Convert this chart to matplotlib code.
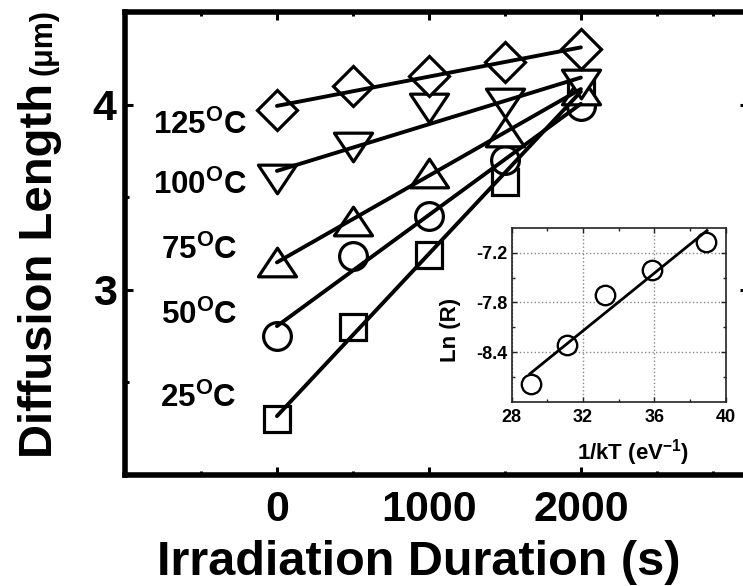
import numpy as np
import matplotlib
matplotlib.use("Agg")
import matplotlib.pyplot as plt
from matplotlib.path import Path
from matplotlib.markers import MarkerStyle

plt.rcParams['font.family'] = ['Liberation Sans', 'DejaVu Sans']
plt.rcParams['mathtext.fontset'] = 'custom'
plt.rcParams['mathtext.rm'] = 'Liberation Sans'
plt.rcParams['mathtext.bf'] = 'Liberation Sans:bold'
plt.rcParams['mathtext.default'] = 'regular'
plt.rcParams['axes.unicode_minus'] = False

# ---------------- data ----------------
duration = [0, 500, 1000, 1500, 2000]
temps = ['25', '50', '75', '100', '125']
L_25 = [2.30, 2.80, 3.19, 3.58, 4.10]
L_50 = [2.75, 3.18, 3.40, 3.70, 3.99]
L_75 = [3.15, 3.37, 3.63, 3.85, 4.08]
L_100 = [3.60, 3.77, 3.98, 4.01, 4.11]
L_125 = [3.97, 4.10, 4.155, 4.23, 4.30]

inv_kT = [29.08, 31.08, 33.23, 35.88, 38.90]
ln_R = [-8.79, -8.31, -7.71, -7.41, -7.07]

# ---------------- styles / layout ----------------
W, H = 743, 586
fig = plt.figure(figsize=(W / 100, H / 100), dpi=100)

def frac_box(l, t, r, b):
    return [l / W, 1 - b / H, (r - l) / W, (b - t) / H]

ax = fig.add_axes(frac_box(125, 12, 748, 475))
ax.set_xlim(-1000, 3100)
ax.set_ylim(2.0, 4.5)

up_tri = MarkerStyle(Path([(-1, -0.75), (1, -0.75), (0, 0.75), (-1, -0.75)], closed=True), joinstyle='miter')
dn_tri = MarkerStyle(Path([(-1, 0.75), (1, 0.75), (0, -0.75), (-1, 0.75)], closed=True), joinstyle='miter')
square = MarkerStyle('s', joinstyle='miter')
diamond = MarkerStyle('D', joinstyle='miter')
circle = MarkerStyle('o')

series = [
    (L_25, square, 18.5),
    (L_50, circle, 20),
    (L_75, up_tri, 27.5),
    (L_100, dn_tri, 27.5),
    (L_125, diamond, 20),
]
x = np.array(duration, dtype=float)
for vals, mk, ms in series:
    ax.plot(x, vals, linestyle='none', marker=mk, ms=ms, mfc='white',
            mec='black', mew=2.3, zorder=3)
    p = np.polyfit(x, vals, 1)
    xf = np.array([x[0], x[-1]])
    ax.plot(xf, np.polyval(p, xf), color='black', lw=2.8, zorder=4,
            solid_capstyle='round')

# temperature labels (right-aligned, baseline)
label_pos = {'125': (-200, 3.841), '100': (-200, 3.517), '75': (-262, 3.167),
             '50': (-262, 2.817), '25': (-265, 2.369)}
for t in temps:
    lx, ly = label_pos[t]
    ax.text(lx, ly, t + r'$^{\mathregular{O}}$C', ha='right', va='baseline',
            fontsize=22.5, fontweight='bold', zorder=5)

ax.set_xticks([0, 1000, 2000])
ax.set_xticklabels(['0', '1000', '2000'])
ax.set_xticks([-500, 500, 1500, 2500, 2870], minor=True)
ax.set_yticks([3, 4])
ax.set_yticklabels(['3', '4'])
ax.set_yticks([2.5, 3.5], minor=True)
ax.tick_params(which='both', direction='in', top=True, right=True, width=2.2)
ax.tick_params(which='major', length=6)
ax.tick_params(which='minor', length=3)
ax.tick_params(axis='x', which='major', labelsize=31, pad=11)
ax.tick_params(axis='y', which='major', labelsize=31, pad=6)
for lab in ax.get_xticklabels() + ax.get_yticklabels():
    lab.set_fontweight('bold')
for s in ax.spines.values():
    s.set_linewidth(4)

ax.set_xlabel('Irradiation Duration (s)', fontsize=35, fontweight='bold', va='top')
ax.xaxis.set_label_coords((418.5 - 125) / 623, -(540 - 475) / 463)

# y label in two parts (different sizes)
bx, by = 52 / W, 1 - 458 / H
t1 = fig.text(bx, by, 'Diffusion Length', rotation=90, rotation_mode='anchor',
              ha='left', va='baseline', fontsize=34, fontweight='bold')
fig.canvas.draw()
bb = t1.get_window_extent()
top_frac = bb.y1 / fig.bbox.height
fig.text(bx, top_frac + 8 / H, '(\u03bcm)', rotation=90, rotation_mode='anchor',
         ha='left', va='baseline', fontsize=22, fontweight='bold')

# ---------------- inset ----------------
axi = fig.add_axes(frac_box(511.7, 228, 725.7, 401.7))
axi.set_xlim(28, 40)
axi.set_ylim(-9.0, -6.9)
axi.plot(inv_kT, ln_R, linestyle='none', marker='o', ms=14, mfc='white',
         mec='black', mew=1.7, zorder=3)
pi = np.polyfit(inv_kT, ln_R, 1)
xi = np.array([inv_kT[0] - 0.05, inv_kT[-1] + 0.05])
axi.plot(xi, np.polyval(pi, xi), color='black', lw=2.0, zorder=4)
axi.set_xticks([28, 32, 36, 40])
axi.set_xticks([30, 34, 38], minor=True)
axi.set_yticks([-8.4, -7.8, -7.2])
axi.set_yticks([-8.7, -8.1, -7.5], minor=True)
axi.grid(True, which='major', linestyle=':', color='#888888', lw=1.0)
axi.tick_params(which='both', direction='in', top=True, right=True, width=1.0,
                labelsize=13, color='#222222')
axi.tick_params(which='major', length=3.5)
axi.tick_params(which='minor', length=2.5)
axi.tick_params(axis='x', pad=5)
axi.tick_params(axis='y', pad=3)
for lab in axi.get_xticklabels() + axi.get_yticklabels():
    lab.set_fontweight('bold')
for s in axi.spines.values():
    s.set_linewidth(1.2)
    s.set_color('#222222')
axi.set_xlabel(r'1/kT (eV$^{\mathregular{-1}}$)', fontsize=16, fontweight='bold', va='top')
axi.xaxis.set_label_coords((633 - 511.7) / 214, -(437 - 401.7) / 173.7)
axi.set_ylabel('Ln (R)', fontsize=16, fontweight='bold', va='bottom')
axi.yaxis.set_label_coords((461 - 511.7) / 214, (401.7 - 330) / 173.7)

fig.savefig('out.png', dpi=100)
